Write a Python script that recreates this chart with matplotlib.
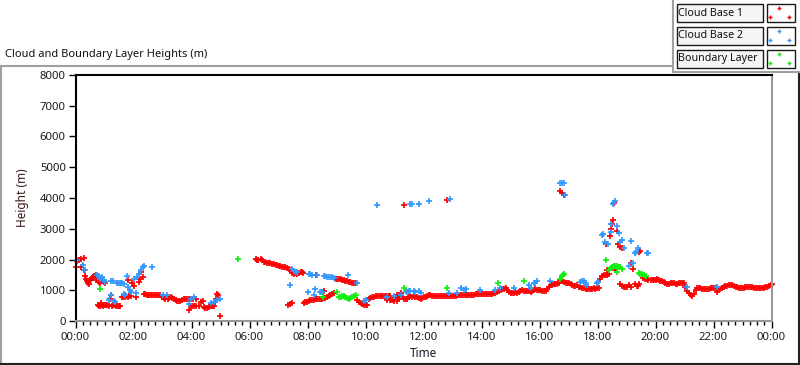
import matplotlib
matplotlib.use('Agg')
import matplotlib.pyplot as plt
import matplotlib.ticker as mticker
from matplotlib.patches import Rectangle
from matplotlib.lines import Line2D

# (hour of day, height in m)
cloud_base_1 = [
    (0.03, 1760), (0.05, 1950), (0.12, 1990), (0.20, 2030), (0.20, 1760), (0.28, 2040),
    (0.28, 1650), (0.32, 1460), (0.35, 1380), (0.38, 1310), (0.42, 1240), (0.47, 1190),
    (0.50, 1330), (0.52, 1380), (0.56, 1400), (0.61, 1430), (0.65, 1450), (0.69, 1480),
    (0.75, 1430), (0.72, 1330), (0.80, 1270), (0.86, 1240), (0.92, 1300), (0.98, 1270),
    (1.03, 1240), (0.77, 510), (0.81, 500), (0.85, 490), (0.89, 600), (0.92, 510),
    (0.95, 500), (1.00, 510), (1.05, 510), (1.10, 520), (1.15, 490), (1.18, 700),
    (1.23, 830), (1.25, 500), (1.30, 510), (1.35, 510), (1.40, 490), (1.45, 490),
    (1.50, 500), (1.55, 490), (1.61, 770), (1.65, 780), (1.70, 790), (1.72, 840),
    (1.75, 800), (1.80, 790), (1.80, 1330), (1.85, 800), (1.90, 810), (1.95, 1220),
    (2.01, 1140), (2.10, 770), (2.18, 1270), (2.22, 1350), (2.27, 1600), (2.33, 1420),
    (2.36, 870), (2.40, 870), (2.45, 860), (2.50, 860), (2.55, 860), (2.60, 860),
    (2.65, 860), (2.70, 860), (2.75, 860), (2.80, 860), (2.85, 860), (2.93, 850),
    (2.99, 770), (3.05, 740), (3.10, 700), (3.18, 700), (3.23, 740), (3.28, 770),
    (3.33, 740), (3.39, 700), (3.45, 670), (3.51, 650), (3.56, 660), (3.62, 650),
    (3.68, 680), (3.73, 700), (3.79, 700), (3.85, 700), (3.91, 720), (3.97, 730),
    (4.05, 720), (4.14, 700), (3.91, 360), (3.97, 490), (4.03, 490), (4.08, 490),
    (4.15, 500), (4.25, 500), (4.33, 630), (4.39, 650), (4.42, 460), (4.47, 430),
    (4.53, 430), (4.60, 470), (4.65, 480), (4.70, 480), (4.75, 490), (4.78, 490),
    (4.80, 630), (4.86, 700), (4.91, 860), (4.88, 870), (4.98, 160),
    (6.21, 2030), (6.26, 2000), (6.30, 1980), (6.38, 2030), (6.44, 2000), (6.49, 1920),
    (6.55, 1910), (6.60, 1900), (6.66, 1880), (6.72, 1870), (6.78, 1850), (6.84, 1840),
    (6.90, 1820), (6.95, 1810), (7.00, 1800), (7.06, 1790), (7.12, 1770), (7.18, 1760),
    (7.24, 1740), (7.30, 1710), (7.36, 1690), (7.41, 1650), (7.47, 1560), (7.53, 1540),
    (7.59, 1550), (7.64, 1540), (7.70, 1570), (7.76, 1600), (7.82, 1580), (7.85, 1560),
    (8.28, 1490), (8.97, 1380), (9.03, 1370), (9.08, 1360), (9.14, 1350), (9.20, 1330),
    (9.25, 1320), (9.31, 1310), (9.37, 1290), (9.42, 1280), (9.48, 1260), (9.54, 1250),
    (9.60, 1250), (9.66, 1250), (7.32, 510), (7.38, 550), (7.47, 590), (7.87, 590),
    (7.93, 610), (7.98, 630), (8.04, 650), (8.10, 670), (8.16, 680), (8.22, 690),
    (8.28, 700), (8.34, 710), (8.40, 720), (8.45, 720), (8.51, 730), (8.56, 970),
    (8.56, 740), (8.62, 750), (8.68, 770), (8.74, 800), (8.79, 840), (8.85, 870),
    (8.91, 900), (9.71, 680), (9.77, 620), (9.83, 570), (9.88, 540), (9.94, 520),
    (10.00, 510), (10.06, 520), (10.11, 700), (10.17, 740), (10.23, 770), (10.29, 790),
    (10.35, 800), (10.40, 810), (10.46, 810), (10.52, 810), (10.58, 810), (10.63, 810),
    (10.69, 810), (10.75, 810), (10.80, 810), (10.86, 810), (10.75, 680), (10.86, 690),
    (10.92, 680), (10.98, 660), (11.03, 790), (11.09, 650), (11.09, 860), (11.15, 700),
    (11.15, 790), (11.21, 810), (11.23, 900), (11.27, 770), (11.32, 3780), (11.33, 700),
    (11.38, 730), (11.44, 700), (11.49, 790), (11.55, 800), (11.61, 790), (11.67, 810),
    (11.72, 790), (11.78, 770), (11.84, 750), (11.90, 730), (11.95, 750), (12.01, 770),
    (12.07, 790), (12.13, 810), (12.18, 840), (12.24, 830), (12.30, 820), (12.36, 810),
    (12.42, 810), (12.48, 810), (12.53, 810), (12.59, 810), (12.65, 810), (12.71, 810),
    (12.77, 810), (12.82, 810), (12.82, 3940), (12.88, 810), (12.94, 810), (13.00, 820),
    (13.05, 810), (13.11, 820), (13.17, 830), (13.22, 830), (13.28, 840), (13.34, 840),
    (13.40, 850), (13.45, 860), (13.51, 860), (13.57, 860), (13.63, 860), (13.68, 860),
    (13.74, 860), (13.80, 870), (13.86, 870), (13.91, 870), (13.97, 870), (14.03, 870),
    (14.09, 870), (14.14, 880), (14.20, 870), (14.26, 880), (14.32, 880), (14.37, 890),
    (14.42, 900), (14.48, 920), (14.54, 950), (14.60, 980), (14.66, 1000), (14.72, 1040),
    (14.77, 1050), (14.83, 1060), (14.89, 1000), (14.95, 950), (15.00, 900), (15.06, 910),
    (15.11, 920), (15.17, 930), (15.23, 920), (15.29, 940), (15.34, 960), (15.40, 1000),
    (15.46, 990), (15.52, 980), (15.58, 980), (15.64, 960), (15.69, 950), (15.75, 990),
    (15.81, 1010), (15.86, 1030), (15.92, 1020), (15.98, 1010), (16.03, 1000), (16.09, 990),
    (16.15, 990), (16.21, 980), (16.27, 1050), (16.33, 1120), (16.38, 1170), (16.44, 1180),
    (16.50, 1190), (16.55, 1200), (16.61, 1200), (16.66, 1230), (16.72, 1330), (16.72, 4220),
    (16.78, 4160), (16.84, 4100), (16.78, 1290), (16.84, 1270), (16.90, 1250), (16.96, 1240),
    (17.02, 1230), (17.07, 1210), (17.13, 1180), (17.18, 1140), (17.24, 1150), (17.30, 1170),
    (17.35, 1120), (17.41, 1090), (17.47, 1070), (17.53, 1060), (17.59, 1050), (17.64, 1040),
    (17.70, 1040), (17.76, 1040), (17.82, 1050), (17.87, 1060), (17.93, 1050), (17.99, 1060),
    (18.05, 1060), (18.08, 1350), (18.16, 1460), (18.22, 1480), (18.28, 1490), (18.34, 1510),
    (18.39, 1540), (18.33, 1650), (18.62, 1650), (18.79, 1190), (18.85, 1150), (18.91, 1090),
    (18.96, 1090), (19.02, 1090), (19.08, 1170), (19.14, 1110), (19.31, 1190), (19.36, 1150),
    (19.39, 1130), (19.42, 1190), (19.57, 1410), (19.63, 1380), (19.69, 1350), (19.75, 1340),
    (19.83, 1330), (19.90, 1330), (19.95, 1320), (20.00, 1330), (20.06, 1350), (20.11, 1330),
    (20.17, 1310), (20.23, 1290), (20.28, 1260), (20.34, 1220), (20.40, 1210), (20.46, 1200),
    (20.52, 1240), (20.57, 1250), (20.63, 1220), (20.69, 1210), (20.75, 1200), (20.80, 1220),
    (20.86, 1240), (20.92, 1230), (20.98, 1220), (21.03, 1110), (21.09, 980), (21.15, 900),
    (21.21, 840), (21.26, 810), (21.32, 870), (21.38, 1000), (21.44, 1060), (21.50, 1060),
    (21.55, 1060), (21.61, 1050), (21.67, 1040), (21.72, 1040), (21.78, 1040), (21.84, 1050),
    (21.90, 1060), (21.95, 1060), (22.01, 1060), (22.07, 1060), (22.13, 1060), (22.13, 950),
    (22.18, 1050), (22.24, 1040), (22.30, 1070), (22.36, 1110), (22.41, 1140), (22.47, 1150),
    (22.53, 1160), (22.59, 1170), (22.64, 1160), (22.70, 1140), (22.76, 1110), (22.82, 1090),
    (22.88, 1080), (22.93, 1060), (22.99, 1060), (23.05, 1070), (23.10, 1100), (23.16, 1110),
    (23.22, 1100), (23.28, 1110), (23.33, 1100), (23.39, 1080), (23.45, 1070), (23.51, 1060),
    (23.56, 1060), (23.62, 1060), (23.68, 1060), (23.74, 1060), (23.79, 1090), (23.85, 1110),
    (23.91, 1150), (23.97, 1170), (24.00, 1200),
    (18.31, 2520), (18.43, 2750), (18.47, 2980), (18.50, 3160), (18.54, 3290), (18.56, 3840),
    (18.66, 2920), (18.70, 2520), (18.77, 2410), (18.85, 2390), (19.17, 1870), (19.23, 1690),
    (19.42, 2240), (19.48, 2280),
]

cloud_base_2 = [
    (0.06, 1980), (0.27, 1810), (0.32, 1650), (0.75, 1490), (0.80, 1460), (0.84, 1350),
    (0.92, 1420), (0.98, 1330), (1.03, 1270), (1.21, 1290), (1.30, 1310), (1.44, 1240),
    (1.48, 1240), (1.52, 1240), (1.56, 1230), (1.60, 1220), (1.67, 1200), (1.78, 1460),
    (1.80, 1110), (1.87, 1000), (1.92, 950), (1.67, 870), (1.72, 840), (2.01, 1350),
    (2.07, 900), (2.13, 1430), (2.18, 1540), (2.27, 1670), (2.33, 1760), (2.36, 1790),
    (2.64, 1740), (1.15, 680), (1.21, 830), (1.32, 660), (1.36, 630), (3.02, 840),
    (3.16, 840), (3.91, 540), (3.97, 700), (4.10, 780), (4.66, 570), (4.77, 630),
    (4.88, 680), (4.98, 700), (7.39, 1170), (7.47, 1680), (7.53, 1640), (7.59, 1600),
    (7.64, 1600), (8.04, 1540), (8.10, 1520), (8.16, 1490), (8.33, 1490), (8.56, 1460),
    (8.62, 1450), (8.68, 1440), (8.73, 1430), (8.80, 1430), (8.85, 1420), (8.91, 1410),
    (9.39, 1490), (9.71, 1250), (8.01, 940), (8.25, 1030), (8.22, 860), (8.42, 940),
    (8.46, 950), (8.51, 950), (9.94, 660), (10.03, 680), (10.40, 3780), (10.75, 770),
    (10.98, 810), (11.21, 840), (11.44, 950), (11.38, 980), (11.49, 980), (11.55, 980),
    (11.53, 3810), (11.61, 3810), (11.68, 990), (11.72, 950), (11.84, 980), (11.84, 3810),
    (11.90, 900), (12.18, 3910), (12.87, 900), (12.93, 3980), (13.16, 920), (13.28, 1060),
    (13.39, 1000), (13.48, 1030), (13.94, 1000), (14.48, 1000), (14.63, 1060), (15.11, 1060),
    (15.63, 1170), (15.69, 1060), (15.80, 1220), (15.86, 1240), (15.92, 1300), (16.36, 1300),
    (16.72, 4490), (16.78, 4490), (16.84, 4490), (16.88, 4100), (17.41, 1270), (17.47, 1290),
    (17.53, 1300), (17.59, 1220), (17.62, 1170), (17.97, 1240), (18.01, 1270), (18.14, 2790),
    (18.20, 2820), (18.25, 2570), (18.36, 2520), (18.45, 2890), (18.47, 3160), (18.54, 3810),
    (18.62, 3890), (18.68, 3080), (18.74, 2860), (18.79, 2570), (18.85, 2620), (18.91, 2390),
    (19.08, 1790), (19.14, 2600), (19.23, 1890), (19.28, 2210), (19.34, 2240), (19.39, 2390),
    (19.69, 2220), (19.74, 2220), (21.07, 1110), (22.13, 1090),
]

boundary_layer = [
    (0.83, 1030), (5.61, 2030), (8.54, 770), (9.02, 950), (9.08, 770), (9.14, 790),
    (9.20, 800), (9.25, 810), (9.31, 790), (9.37, 750), (9.42, 730), (9.48, 740),
    (9.54, 790), (9.60, 810), (9.66, 840), (11.32, 1060), (12.82, 1060), (14.57, 1220),
    (15.46, 1300), (16.72, 1380), (16.78, 1460), (16.81, 1500), (16.84, 1520), (18.30, 2000),
    (18.39, 1650), (18.45, 1710), (18.50, 1740), (18.54, 1760), (18.58, 1780), (18.62, 1790),
    (18.66, 1780), (18.70, 1760), (18.74, 1740), (18.77, 1740), (18.85, 1680), (18.68, 1600),
    (19.42, 1570), (19.48, 1520), (19.54, 1540), (19.60, 1490), (19.66, 1460),
]

series_names = ['Cloud Base 1', 'Cloud Base 2', 'Boundary Layer']
series_colors = ['#ff0000', '#3399ff', '#11ee11']
hour_ticks = list(range(0, 25, 2))
height_ticks = list(range(0, 8001, 1000))

W, H = 800, 365
plt.rcParams['font.family'] = ['Noto Sans', 'DejaVu Sans']
fig = plt.figure(figsize=(W / 100, H / 100), dpi=100)


def fx(x):
    return x / W


def fy(y):
    return 1 - y / H


ax = fig.add_axes([fx(75.5), fy(321), (771.5 - 75.5) / W, (321 - 75) / H])

for pts, c in zip([cloud_base_1, cloud_base_2, boundary_layer], series_colors):
    t = [p[0] for p in pts]
    h = [p[1] for p in pts]
    ax.plot(t, h, linestyle='none', marker='+', ms=3.8, mew=1.25, color=c, clip_on=False)

ax.set_xlim(0, 24)
ax.set_ylim(0, 8000)
ax.set_xticks(hour_ticks)
ax.set_xticklabels(['%02d:00' % (h % 24) for h in hour_ticks])
ax.xaxis.set_minor_locator(mticker.MultipleLocator(0.25))
ax.set_yticks(height_ticks)
ax.tick_params(axis='both', which='major', length=5, width=1, color='black',
               labelsize=8.2, labelcolor='#1a1a1a', pad=2)
ax.tick_params(axis='x', which='minor', length=3, width=1, color='black')
ax.tick_params(axis='x', pad=3)
for side in ['left', 'top']:
    ax.spines[side].set_color('black')
    ax.spines[side].set_linewidth(1.5)
for side in ['right', 'bottom']:
    ax.spines[side].set_color('#999999')
    ax.spines[side].set_linewidth(1.5)

ax.set_xlabel('Time', fontsize=8.5, color='#1a1a2a', labelpad=3)
ax.set_ylabel('Height (m)', fontsize=8.5, color='#3a1515', labelpad=8)

fig.text(fx(5), fy(55), 'Cloud and Boundary Layer Heights (m)', fontsize=8.0,
         va='center', ha='left', color='#111111')

# panel frame lines
frame = [
    ([0, 672], [65.5, 65.5], '#a0a0a0'),
    ([0.8, 0.8], [65.5, 365], '#a0a0a0'),
    ([0, 800], [364, 364], '#222222'),
    ([799.2, 799.2], [72, 365], '#222222'),
    ([672.5, 672.5], [0, 72], '#a0a0a0'),
    ([672.5, 800], [72, 72], '#a0a0a0'),
]
for xs, ys, c in frame:
    fig.add_artist(Line2D([fx(v) for v in xs], [fy(v) for v in ys], color=c, lw=1.5,
                          transform=fig.transFigure))

# legend boxes
box_tops = [4, 27, 50]
for name, c, top in zip(series_names, series_colors, box_tops):
    fig.add_artist(Rectangle((fx(676.5), fy(top + 18)), 86 / W, 18 / H,
                             transform=fig.transFigure, facecolor='#f5f5f5',
                             edgecolor='#1a1a1a', lw=1))
    fig.text(fx(678.5), fy(top + 9), name, fontsize=7.7, va='center', ha='left',
             color='#111111')
    fig.add_artist(Rectangle((fx(767), fy(top + 18)), 28 / W, 18 / H,
                             transform=fig.transFigure, facecolor='white',
                             edgecolor='#1a1a1a', lw=1))
    for dx, dy in [(12, 4), (2.5, 13), (22, 13)]:
        fig.add_artist(Line2D([fx(767 + dx)], [fy(top + dy)], marker='+', ms=3.3, mew=1.0,
                              color=c, linestyle='none', transform=fig.transFigure))

fig.savefig('out.png', dpi=100, facecolor='white')
